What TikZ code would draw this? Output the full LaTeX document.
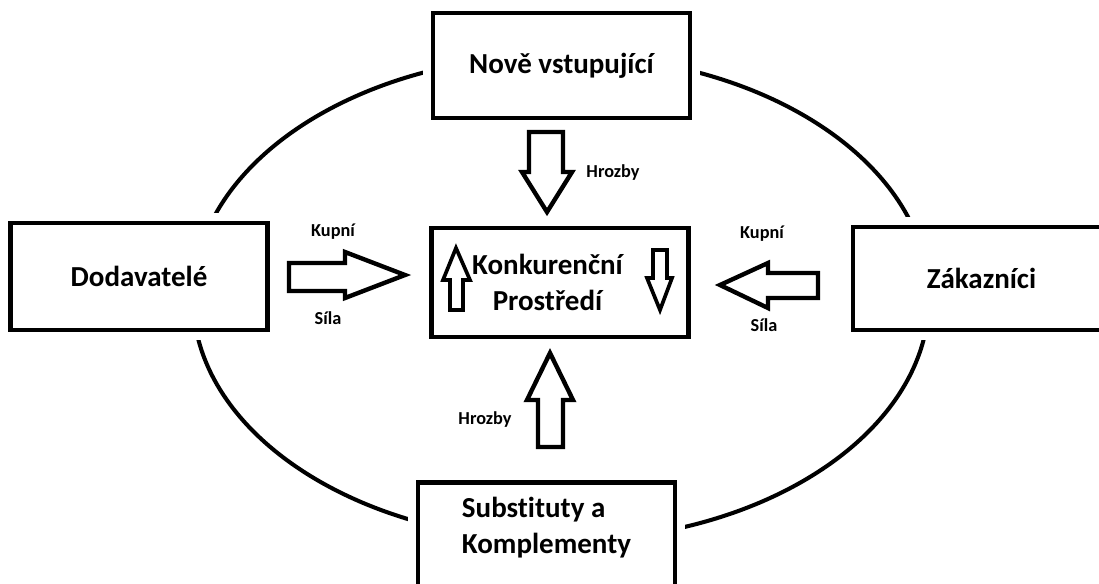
\documentclass[tikz,border=0pt]{standalone}
\usepackage{fontspec}
\setmainfont{Carlito}[Ligatures=NoCommon]

\begin{document}
\begin{tikzpicture}[
  x=0.02cm, y=-0.02cm, line join=miter,
  box/.style={draw, line width=2.8pt, fill=white, minimum width=5.14cm, minimum height=2.14cm,
    font=\fontsize{16.5}{20.5}\selectfont\bfseries, align=center,
    preaction={draw=white, line width=11pt}},
  ring/.style={line width=2.3pt},
  fatarrow/.style={draw, line width=2.5pt, fill=white},
  thinarrow/.style={draw, line width=2.1pt, fill=white},
  tag/.style={font=\fontsize{10.4}{12}\selectfont\bfseries},
  ]

  \useasboundingbox (0,0) rectangle (1099,583);
  \clip (0,0) rectangle (1099,583);
  \fill[white] (0,0) rectangle (1099,583);

  \draw[ring] (561,298) ellipse [x radius=368, y radius=243];

  \node[box, minimum height=2.1cm]            (nove)  at (561.5,65.5)  {Nově vstupující};
  \node[box, minimum height=2.18cm]           (konk)  at (560,282.5)   {Konkurenční\hspace*{0.5cm}\\Prostředí\hspace*{0.5cm}};
  \node[box]                                  (dodav) at (139,276.5)   {Dodavatelé};
  \node[box, minimum height=2.06cm]           (zakaz) at (981.5,278.5) {Zákazníci};
  \node[box, align=left, anchor=north, inner ysep=0.3cm, text depth=2.5cm]
                                              (subst) at (546.5,480)   {Substituty a\\Komplementy};

  \draw[fatarrow] (529,132) -- (563,132) -- (563,172) -- (572,172) -- (547,212) -- (522,172) -- (529,172) -- cycle;
  \draw[fatarrow] (538,447) -- (563,447) -- (563,400) -- (573,400) -- (550,353) -- (527,400) -- (538,400) -- cycle;
  \draw[fatarrow] (289,263) -- (345,263) -- (345,252) -- (405,275) -- (345,298) -- (345,291) -- (289,291) -- cycle;
  \draw[fatarrow] (818,273) -- (768,273) -- (768,263) -- (720,285) -- (768,308) -- (768,298) -- (818,298) -- cycle;
  \draw[thinarrow] (450,310) -- (463,310) -- (463,280) -- (470,280) -- (456,248) -- (443,280) -- (450,280) -- cycle;
  \draw[thinarrow] (653,250) -- (667,250) -- (667,278) -- (672,278) -- (660,310) -- (647,278) -- (653,278) -- cycle;

  \node[tag] (hrozbyA) at (613,173) {Hrozby};
  \node[tag] (hrozbyB) at (485,420) {Hrozby};
  \node[tag] (kupniL)  at (333,232) {Kupní};
  \node[tag] (silaL)   at (328,318) {Síla};
  \node[tag] (kupniR)  at (762,234) {Kupní};
  \node[tag] (silaR)   at (764,325) {Síla};
\end{tikzpicture}
\end{document}
